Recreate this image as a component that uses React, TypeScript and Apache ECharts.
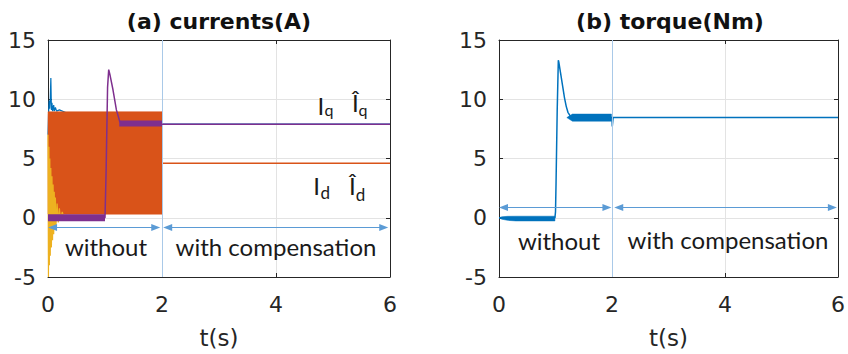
import React, { useEffect, useRef } from "react";
import * as echarts from "echarts";

// ---------- tick values ----------
const xTicks = { min: 0, max: 6, interval: 2 };
const yTicks = { min: -5, max: 15, interval: 5 };

// ---------- (a) currents ----------
// estimated q-axis current (blue), [t, A]
const iqHat: [number, number][] = [
  [0, 7.0], [0.01, 8.8], [0.02, 9.9], [0.03, 9.2], [0.04, 10.1], [0.05, 11.8],
  [0.06, 9.1], [0.07, 9.7], [0.08, 9.0], [0.1, 9.5], [0.11, 9.0], [0.13, 9.3],
  [0.15, 9.0], [0.2, 9.1], [0.3, 8.9], [0.4, 8.6], [2.0, 8.0], [2.01, 7.9], [6, 7.9],
];
// d-axis current oscillation band (orange) before compensation
const idBandT = [0, 2];
const idBandLow = [0.3, 0.3];
const idBandHigh = [8.95, 8.95];
// d-axis current after compensation
const idAfter: [number, number][] = [[2, 4.6], [6, 4.6]];
// estimated d-axis current (yellow)
const idHat: [number, number][] = [
  [0, 7.0], [0.008, -5.0], [0.016, 6.0], [0.024, -4.0], [0.032, 5.0], [0.04, -3.2],
  [0.05, 4.2], [0.06, -2.5], [0.07, 3.5], [0.08, -1.9], [0.09, 2.8], [0.1, -1.4],
  [0.11, 2.2], [0.12, -1.0], [0.13, 1.7], [0.14, -0.7], [0.16, 1.2], [0.18, -0.4],
  [0.2, 0.8], [0.22, -0.2], [0.25, 0.5], [0.28, 0.0], [0.32, 0.2], [0.5, 0.0],
];
// q-axis current (purple)
const iq: [number, number][] = [
  [0, 0], [1.0, 0], [1.02, 4], [1.045, 11], [1.065, 12.5], [1.09, 12.0],
  [1.14, 10.8], [1.2, 9.1], [1.26, 8.1], [1.32, 7.95], [2, 7.9], [6, 7.9],
];
const iqRipple1: [number, number][] = [[0, 0], [1.0, 0]];
const iqRipple2: [number, number][] = [[1.25, 7.95], [2, 7.95]];

// ---------- (b) torque ----------
const torque: [number, number][] = [
  [0, 0], [0.99, 0], [1.0, 0.5], [1.01, 3], [1.03, 9], [1.05, 13.3], [1.06, 13.1],
  [1.09, 12.2], [1.13, 11.0], [1.16, 10.1], [1.19, 9.4], [1.22, 8.9], [1.26, 8.6],
  [1.3, 8.5], [2, 8.45], [2.005, 7.7], [2.02, 8.47], [6, 8.47],
];
const teBand1T = [0, 0.05, 0.15, 0.3, 0.99];
const teBand1Low = [0, -0.12, -0.22, -0.27, -0.27];
const teBand1High = [0, 0.08, 0.12, 0.13, 0.13];
const teBand2T = [1.2, 1.3, 1.99];
const teBand2Low = [8.45, 8.15, 8.15];
const teBand2High = [8.45, 8.75, 8.75];

// ---------- annotations (data coords) ----------
const switchTime = 2;
const arrowsA = [
  [[0.08, -0.83], [1.89, -0.83]],
  [[2.1, -0.83], [5.89, -0.83]],
];
const arrowsB = [
  [[0.08, 0.86], [1.91, 0.86]],
  [[2.12, 0.86], [5.9, 0.86]],
];

const C_BLUE = "#0072BD";
const C_ORANGE = "#D95319";
const C_YELLOW = "#EDB120";
const C_PURPLE = "#7E2F8E";
const C_ARROW = "#5B9BD5";
const C_VLINE = "#A9C9E8";
const AX = "#262626";
const TXT = "#1a1a1a";

const tickFont = { fontFamily: "DejaVu Sans", fontSize: 22, color: AX };

function xAxisFor(grid: number, top = false): any {
  return {
    type: "value",
    gridIndex: grid,
    position: top ? "top" : "bottom",
    ...xTicks,
    axisLine: { show: true, onZero: false, lineStyle: { color: AX, width: 1 } },
    axisTick: { show: true, inside: true, length: 4, lineStyle: { color: AX } },
    axisLabel: top ? { show: false } : { ...tickFont, margin: 16 },
    splitLine: top ? { show: false } : { show: true, lineStyle: { color: "#e3e3e3", width: 1 } },
    name: top ? "" : "t(s)",
    nameLocation: "middle",
    nameGap: 49,
    nameTextStyle: { fontFamily: "DejaVu Sans", fontSize: 23, color: AX },
  };
}
function yAxisFor(grid: number, right = false): any {
  return {
    type: "value",
    gridIndex: grid,
    position: right ? "right" : "left",
    ...yTicks,
    axisLine: { show: true, onZero: false, lineStyle: { color: AX, width: 1 } },
    axisTick: { show: true, inside: true, length: 4, lineStyle: { color: AX } },
    axisLabel: right ? { show: false } : { ...tickFont, margin: 12, padding: [5, 0, 0, 0] },
    splitLine: right ? { show: false } : { show: true, lineStyle: { color: "#e3e3e3", width: 1 } },
  };
}

function line(name: string, data: any[], grid: number, color: string, width: number, z: number, extra: any = {}): any {
  return {
    type: "line",
    name,
    xAxisIndex: grid,
    yAxisIndex: grid,
    data,
    z,
    showSymbol: false,
    symbol: "none",
    silent: true,
    lineStyle: { color, width, cap: "butt" },
    ...extra,
  };
}

// filled band between low and high curves, placed through the axes' scales
function band(name: string, t: number[], low: number[], high: number[], grid: number, color: string, z: number): any {
  return {
    type: "custom",
    name,
    coordinateSystem: "cartesian2d",
    xAxisIndex: grid,
    yAxisIndex: grid,
    z,
    silent: true,
    data: [[t[0], low[0]]],
    renderItem: (_params: any, api: any) => {
      const top = t.map((x, i) => api.coord([x, high[i]]));
      const bottom = t.map((x, i) => api.coord([x, low[i]])).reverse();
      return {
        type: "polygon",
        shape: { points: top.concat(bottom) },
        style: { fill: color, stroke: color, lineWidth: 0.5 },
      };
    },
  };
}

function arrowMarks(list: number[][][]): any {
  return {
    silent: true,
    symbol: ["triangle", "triangle"],
    symbolSize: [7, 9],
    label: { show: false },
    lineStyle: { color: C_ARROW, width: 1.2, type: "solid" },
    data: list.map((seg) => [{ coord: seg[0] }, { coord: seg[1] }]),
  };
}

const vMark = {
  silent: true,
  symbol: ["none", "none"],
  label: { show: false },
  lineStyle: { color: C_VLINE, width: 1, type: "solid" },
  data: [{ xAxis: switchTime }],
};

function txt(text: string, x: number, y: number, size: number, family = "Lato", align = "center"): any {
  return {
    type: "text",
    x,
    y,
    silent: true,
    z: 100,
    style: {
      text,
      fill: TXT,
      fontSize: size,
      fontFamily: family,
      align,
      textAlign: align,
      verticalAlign: "middle",
      textVerticalAlign: "middle",
    },
  };
}

const option: any = {
  animation: false,
  backgroundColor: "#ffffff",
  title: [
    {
      text: "(a) currents(A)",
      left: 219,
      top: 10,
      textAlign: "center",
      padding: 0,
      textStyle: { fontFamily: "DejaVu Sans", fontWeight: "bold", fontSize: 22, color: "#111" },
    },
    {
      text: "(b) torque(Nm)",
      left: 670,
      top: 10,
      textAlign: "center",
      padding: 0,
      textStyle: { fontFamily: "DejaVu Sans", fontWeight: "bold", fontSize: 22, color: "#111" },
    },
  ],
  grid: [
    { left: 48, top: 40, width: 342, height: 239, show: false },
    { left: 499, top: 40, width: 343, height: 239, show: false },
  ],
  xAxis: [xAxisFor(0), xAxisFor(1), xAxisFor(0, true), xAxisFor(1, true)],
  yAxis: [yAxisFor(0), yAxisFor(1), yAxisFor(0, true), yAxisFor(1, true)],
  series: [
    // (a)
    line("Iq_hat", iqHat, 0, C_BLUE, 1.2, 2),
    band("Id band", idBandT, idBandLow, idBandHigh, 0, C_ORANGE, 3),
    line("Id", idAfter, 0, C_ORANGE, 1.5, 3, { markLine: arrowMarks(arrowsA) }),
    line("Id_hat", idHat, 0, C_YELLOW, 1.2, 4),
    line("Iq", iq, 0, C_PURPLE, 1.5, 5, { markLine: vMark }),
    line("Iq ripple 1", iqRipple1, 0, C_PURPLE, 7, 5),
    line("Iq ripple 2", iqRipple2, 0, C_PURPLE, 6, 5),
    // (b)
    line("Te", torque, 1, C_BLUE, 1.5, 3, { markLine: vMark }),
    band("Te band 1", teBand1T, teBand1Low, teBand1High, 1, C_BLUE, 3),
    band("Te band 2", teBand2T, teBand2Low, teBand2High, 1, C_BLUE, 3),
    line("Te arrows", [], 1, C_ARROW, 1, 3, { markLine: arrowMarks(arrowsB) }),
  ],
  graphic: [
    txt("without", 106, 246, 24),
    txt("with compensation", 276, 246, 24),
    txt("without", 559, 240, 24),
    txt("with compensation", 728, 239, 24),
    // I_q  and  I_q hat
    txt("I", 317.5, 105.6, 24, "Lato", "left"),
    txt("q", 324.5, 109.6, 16, "Lato", "left"),
    txt("Î", 355.3, 102, 24),
    txt("q", 358.5, 109.6, 16, "Lato", "left"),
    // I_d  and  I_d hat
    txt("I", 313.3, 185.6, 24, "Lato", "left"),
    txt("d", 320.5, 192.5, 17, "Lato", "left"),
    txt("Î", 352.3, 185.5, 24),
    txt("d", 355.8, 194.5, 17, "Lato", "left"),
  ],
};

export default function App() {
  const ref = useRef<HTMLDivElement>(null);
  useEffect(() => {
    const chart = echarts.init(ref.current!, null, { renderer: "svg" });
    chart.setOption(option);
    return () => chart.dispose();
  }, []);
  return (
    <div
      ref={ref}
      style={{ position: "fixed", left: 0, top: 0, width: 848, height: 354, background: "#fff" }}
    />
  );
}
